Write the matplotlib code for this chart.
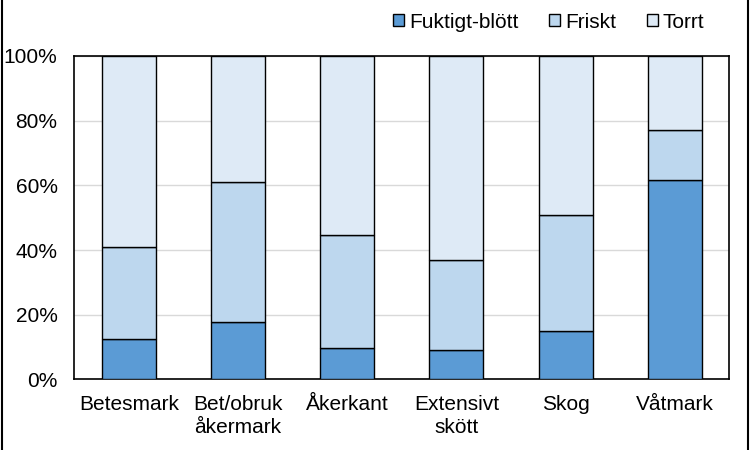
import matplotlib
matplotlib.use("Agg")
import matplotlib.pyplot as plt
from matplotlib.lines import Line2D
import numpy as np

plt.rcParams['font.family'] = ['Liberation Sans', 'DejaVu Sans']

categories = ["Betesmark", "Bet/obruk\nåkermark", "Åkerkant", "Extensivt\nskött", "Skog", "Våtmark"]
fuktigt = [12.4, 17.6, 9.6, 9.0, 14.8, 61.6]
friskt = [28.4, 43.3, 34.9, 27.8, 35.9, 15.4]
torrt = [59.2, 39.1, 55.5, 63.2, 49.3, 23.0]
series_names = ["Fuktigt-blött", "Friskt", "Torrt"]
colors = ["#5B9BD5", "#BDD7EE", "#DEEAF6"]
yticks = [0, 20, 40, 60, 80, 100]

fig = plt.figure(figsize=(7.51, 4.5), dpi=100)
ax = fig.add_axes([0.0989, 0.157, 0.8722, 0.7186])

x = np.arange(len(categories))
w = 0.495
bottom = np.zeros(len(categories))
handles = []
for vals, name, c in zip([fuktigt, friskt, torrt], series_names, colors):
    b = ax.bar(x, vals, w, bottom=bottom, color=c, edgecolor="black", linewidth=1.0, label=name, zorder=3)
    bottom += np.array(vals)
    handles.append(b)

ax.set_xlim(-0.5, len(categories) - 0.5)
ax.set_ylim(0, 100)
ax.set_yticks(yticks)
ax.set_yticklabels([f"{t}%" for t in yticks])
ax.set_xticks(x)
ax.set_xticklabels(categories, linespacing=1.3)
ax.tick_params(axis='both', length=0, labelsize=15, colors="black")
ax.tick_params(axis='y', pad=12)
ax.tick_params(axis='x', pad=11)
ax.yaxis.grid(True, color="#D9D9D9", linewidth=1.0, zorder=0)
ax.set_axisbelow(True)
for s in ax.spines.values():
    s.set_color("black")
    s.set_linewidth(1.2)

fig.legend(handles=handles, labels=series_names, loc="center right",
           bbox_to_anchor=(0.952, 0.951), ncol=3, frameon=False,
           fontsize=15, handlelength=0.5, handleheight=0.5,
           handletextpad=0.25, columnspacing=1.5, borderpad=0)

# outer frame lines (left/right)
fig.add_artist(Line2D([0.002, 0.002], [0, 1], transform=fig.transFigure, color="black", linewidth=1.5))
fig.add_artist(Line2D([0.996, 0.996], [0, 1], transform=fig.transFigure, color="black", linewidth=1.5))

fig.savefig("out.png", dpi=100)
